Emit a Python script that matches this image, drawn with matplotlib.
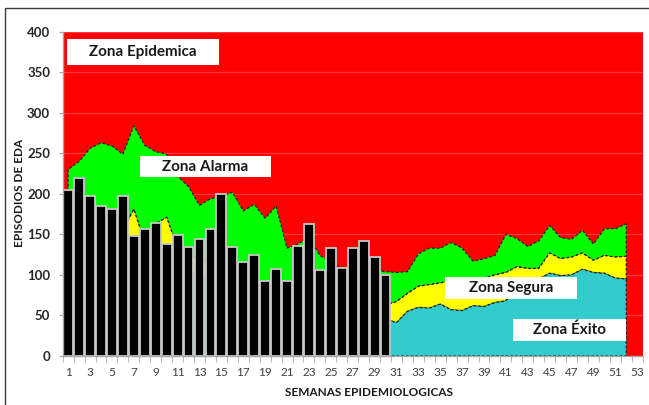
import matplotlib
matplotlib.use("Agg")
import matplotlib.pyplot as plt
from matplotlib.patches import Rectangle
import numpy as np

plt.rcParams['font.family'] = ['Lato', 'DejaVu Sans']

# ---- data ----
week_labels = list(range(1, 54))
area_weeks = list(range(1, 53))
bar_weeks = list(range(1, 31))

cases = [205, 219, 197, 185, 181, 197, 148, 157, 164, 138,
         149, 135, 144, 157, 200, 135, 116, 124, 92, 107,
         92, 136, 163, 106, 133, 109, 133, 142, 122, 100]

q1 = [140, 145, 140, 135, 130, 125, 125, 120, 120, 115,
      110, 105, 100, 95, 90, 85, 80, 75, 70, 68,
      66, 64, 62, 60, 58, 56, 54, 52, 50, 46,
      41, 55, 60, 59, 64, 57, 56, 62, 61, 66,
      68, 85, 90, 95, 102, 99, 100, 107, 103, 102,
      96, 95]

median = [170, 175, 172, 168, 162, 155, 181, 140, 163, 171,
          133, 125, 120, 115, 110, 105, 100, 90, 86, 85,
          82, 80, 80, 78, 76, 74, 72, 70, 68, 63,
          67, 77, 86, 88, 90, 93, 92, 94, 96, 100,
          103, 110, 108, 108, 127, 120, 122, 127, 118, 124,
          122, 123]

q3 = [230, 240, 256, 263, 259, 249, 284, 260, 252, 249,
      222, 209, 186, 194, 197, 202, 179, 187, 170, 185,
      133, 138, 147, 124, 117, 106, 108, 110, 106, 104,
      103, 104, 126, 133, 133, 140, 133, 117, 120, 124,
      150, 145, 135, 142, 161, 146, 144, 155, 138, 157,
      157, 163]

y_ticks = [0, 50, 100, 150, 200, 250, 300, 350, 400]

zones = ["Zona Epidemica", "Zona Alarma", "Zona Segura", "Zona Éxito"]

# ---- figure ----
fig = plt.figure(figsize=(6.49, 4.05), dpi=100)
ax = fig.add_axes([62.7/649, 49/405, 580/649, 324.3/405])

ax.set_facecolor('#ff0000')
ax.set_xlim(0.5, 53.5)
ax.set_ylim(0, 400)

for yt in y_ticks[1:]:
    ax.axhline(yt, color='#ff3a3a', lw=0.9, zorder=0.5)

dash = (0, (2.2, 1.6))
ax.fill_between(area_weeks, median, q3, facecolor='#00ff00', edgecolor='#1e1e1e',
                linewidth=0.9, linestyle=dash, zorder=1)
ax.fill_between(area_weeks, q1, median, facecolor='#ffff00', edgecolor='#1e1e1e',
                linewidth=0.9, linestyle=dash, zorder=1.1)
ax.fill_between(area_weeks, 0, q1, facecolor='#33cccc', edgecolor='#1e1e1e',
                linewidth=0.9, linestyle=dash, zorder=1.2)

ax.bar(bar_weeks, cases, width=0.9, color='black', edgecolor='#c8c8c8',
       linewidth=1.3, zorder=3)

# axes styling
for s in ['top', 'right']:
    ax.spines[s].set_visible(False)
for s in ['left', 'bottom']:
    ax.spines[s].set_color('#a6a6a6')
    ax.spines[s].set_linewidth(1.0)
    ax.spines[s].set_zorder(4)

ax.set_yticks(y_ticks)
ax.set_yticklabels([str(v) for v in y_ticks], fontsize=9.5, fontweight='bold', color='#262626')
ax.tick_params(axis='y', length=3, color='#a6a6a6', pad=6)

ax.set_xticks(week_labels[::2])
ax.set_xticklabels([str(v) for v in week_labels[::2]], fontsize=8.5, color='#404040')
ax.set_xticks(np.arange(0.5, 54, 1.0), minor=True)
ax.tick_params(axis='x', which='major', length=0, pad=8)
ax.tick_params(axis='x', which='minor', length=4, color='#a6a6a6')

fig.text(369/649, 1 - 393/405, "SEMANAS EPIDEMIOLOGICAS", ha='center', va='center',
         fontsize=8.5, fontweight='bold', color='#1a1a1a')
fig.text(20/649, 1 - 193/405, "EPISODIOS DE EDA", ha='center', va='center',
         rotation=90, fontsize=8.5, fontweight='bold', color='#1a1a1a')

# zone label boxes (axes fraction)
boxes = [(0.0069, 0.897, 0.2631, 0.0796),
         (0.1333, 0.551, 0.2253, 0.0666),
         (0.6597, 0.1748, 0.2275, 0.0679),
         (0.7759, 0.0472, 0.1953, 0.0660)]
for (x0, y0, w, h), label in zip(boxes, zones):
    ax.add_patch(Rectangle((x0, y0), w, h, transform=ax.transAxes,
                           facecolor='white', edgecolor='none', zorder=5))
    ax.text(x0 + w/2, y0 + h/2, label, transform=ax.transAxes, ha='center',
            va='center', fontsize=11, fontweight='bold', color='#1a1a1a', zorder=6)

# outer chart border
fig.patches.append(Rectangle((5/649, -0.05), 1.1, 1.05 - 8/405,
                             transform=fig.transFigure, fill=False,
                             edgecolor='#3a3a3a', linewidth=1.0))

fig.savefig('out.png', dpi=100)
